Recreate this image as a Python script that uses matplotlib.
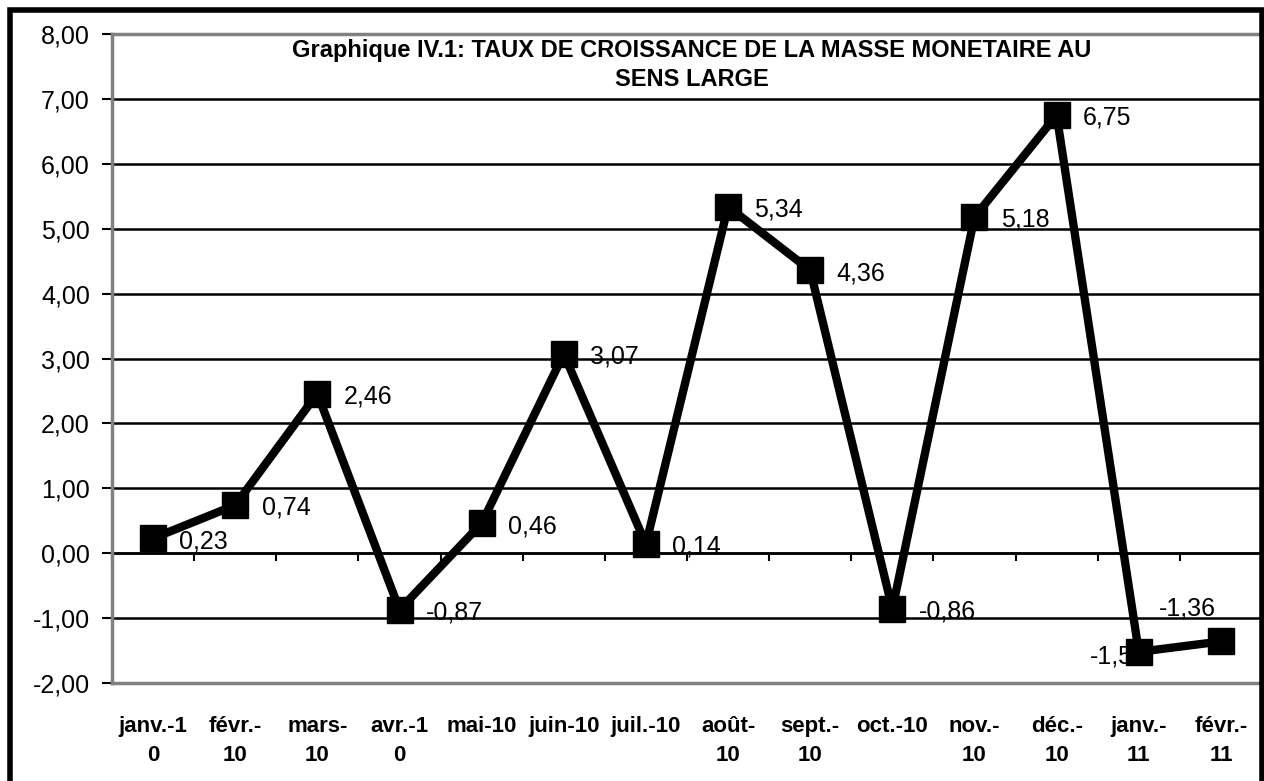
# taux de croissance de la masse monetaire au sens large

import matplotlib
matplotlib.use("Agg")
import matplotlib.pyplot as plt
from matplotlib.patches import Rectangle
import numpy as np

plt.rcParams['font.family'] = ['Liberation Sans', 'DejaVu Sans']

mois = ["janv.-1\n0", "févr.-\n10", "mars-\n10", "avr.-1\n0", "mai-10", "juin-10",
        "juil.-10", "août-\n10", "sept.-\n10", "oct.-10", "nov.-\n10", "déc.-\n10",
        "janv.-\n11", "févr.-\n11"]
taux = [0.23, 0.74, 2.46, -0.87, 0.46, 3.07, 0.14, 5.34, 4.36, -0.86, 5.18, 6.75, -1.52, -1.36]
y_ticks = [-2, -1, 0, 1, 2, 3, 4, 5, 6, 7, 8]
titre = "Graphique IV.1: TAUX DE CROISSANCE DE LA MASSE MONETAIRE AU\nSENS LARGE"

fig = plt.figure(figsize=(12.64, 7.81), dpi=100)
ax = fig.add_axes([112/1264, 1-683/781, 1150/1264, 649/781])

p = np.arange(len(mois))
ax.plot(p, taux, color="black", lw=6, marker="s", markersize=19, zorder=4,
        clip_on=False)

# etiquettes de valeurs (a droite, sauf les deux dernieres)
for i, v in enumerate(taux):
    txt = f"{v:.2f}".replace(".", ",")
    if i == len(taux) - 2:
        ax.annotate(txt, (p[i], v), xytext=(6, -3), textcoords="offset points",
                    ha="right", va="center", fontsize=18, zorder=3)
    elif i == len(taux) - 1:
        ax.annotate(txt, (p[i], v), xytext=(-24, 24), textcoords="offset points",
                    ha="center", va="center", fontsize=18, zorder=3)
    else:
        ax.annotate(txt, (p[i], v), xytext=(19, -2), textcoords="offset points",
                    ha="left", va="center", fontsize=18, zorder=3)

ax.set_xlim(-0.5, len(mois) - 0.5)
ax.set_ylim(-2, 8)
ax.set_yticks(y_ticks)
ax.set_yticklabels([f"{t:.2f}".replace(".", ",") for t in y_ticks], fontsize=18)
ax.yaxis.grid(True, color="black", lw=1.8)
ax.set_axisbelow(True)
ax.tick_params(axis="y", length=7, width=1.5, pad=9, color="black")

ax.set_xticks(p)
ax.set_xticklabels(mois, fontsize=16, fontweight="bold", linespacing=1.5)
ax.tick_params(axis="x", length=0, pad=24)

for s in ax.spines.values():
    s.set_color("#808080")
    s.set_linewidth(2.5)

# axe des categories sur la ligne zero
sec = ax.secondary_xaxis(0.2)
sec.set_xticks(np.arange(len(mois) + 1) - 0.5)
sec.set_xticklabels([])
sec.tick_params(axis="x", direction="out", length=6, width=1.5, color="black")
sec.spines["bottom"].set_color("black")
sec.spines["bottom"].set_linewidth(1.8)

ax.text(0.504, 0.992, titre, transform=ax.transAxes, ha="center", va="top",
        fontsize=17, fontweight="bold", linespacing=1.3)

# cadre noir autour du graphique
fig.patches.append(Rectangle((10/1264, -0.05), 1252/1264, 1.05 - 10/781,
                             transform=fig.transFigure, fill=False,
                             edgecolor="black", lw=4))

fig.savefig("out.png", dpi=100, facecolor="white")
